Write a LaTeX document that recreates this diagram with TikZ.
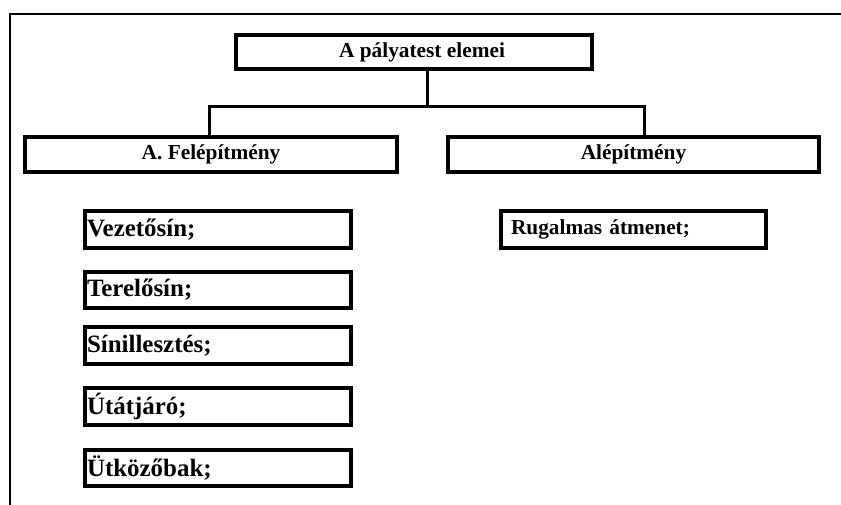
\documentclass[tikz,border=0pt]{standalone}
\usepackage{fontspec}
\setmainfont{Liberation Serif}
\begin{document}
\begin{tikzpicture}[x=0.75pt,y=-0.75pt,
  box/.style={draw=black,line width=2.8pt,rectangle,inner sep=0pt,
    font=\fontsize{16pt}{18pt}\selectfont\bfseries},
  itembox/.style={box,minimum width=266*0.75pt,minimum height=37*0.75pt,
    text width=266*0.75pt-3pt,align=left,inner xsep=1.5pt,
    font=\fontsize{18.7pt}{21pt}\selectfont\bfseries},
  conn/.style={draw=black,line width=2.25pt},
  frameline/.style={draw=black,line width=1.5pt,line cap=rect}]
\useasboundingbox (0,0) rectangle (841,505);
\fill[white] (0,0) rectangle (841,505);
% frame
\coordinate (f0) at (10.3,14.3);
\coordinate (f1) at (845,14.3);
\coordinate (f2) at (10.3,510);
\draw[frameline] (f1) -- (f0) -- (f2);
% top box
\node[box,minimum width=356*0.75pt,minimum height=34*0.75pt] (top) at (414,52) {};
\node[font=\fontsize{16pt}{18pt}\selectfont\bfseries,inner sep=0pt] (toptext) at (422,52) {A pályatest elemei};
% second level
\node[box,minimum width=372*0.75pt,minimum height=35*0.75pt] (fel) at (211,154.5) {A. Felépítmény};
\node[box,minimum width=371*0.75pt,minimum height=35*0.75pt] (ale) at (633.5,154.5) {Alépítmény};
% connectors
\coordinate (j) at (427,107);
\coordinate (jl) at (209,107);
\coordinate (jr) at (644,107);
\draw[conn] (top.south -| j) -- (j);
\draw[conn,line cap=rect] (fel.north -| jl) -- (jl) -- (jr) -- (ale.north -| jr);
% items
\node[itembox] (v) at (218,229.5) {Vezetősín;};
\node[itembox,minimum height=36*0.75pt] (t) at (218,290) {Terelősín;};
\node[itembox] (s) at (218,345.5) {Sínillesztés;};
\node[itembox] (u) at (218,406.5) {Útátjáró;};
\node[itembox,minimum height=36*0.75pt] (k) at (218,468) {Ütközőbak;};
\node[box,minimum width=265*0.75pt,minimum height=37*0.75pt,
  text width=265*0.75pt-15pt,align=left,inner xsep=7.5pt] (r) at (633.5,229.5) {Rugalmas átmenet;};
\end{tikzpicture}
\end{document}
